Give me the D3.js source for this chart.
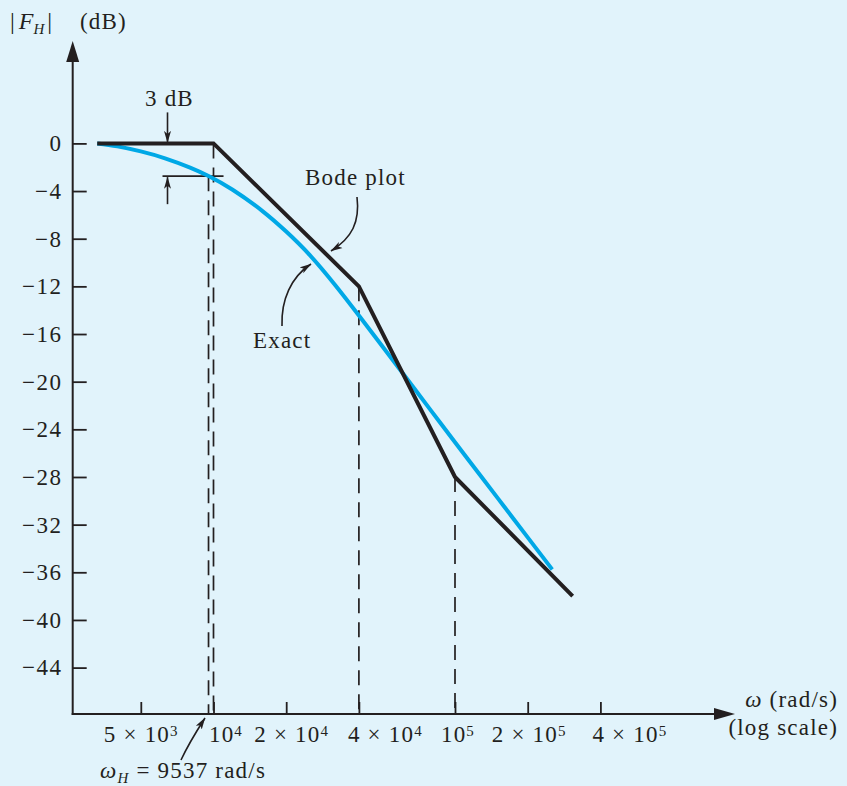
<!DOCTYPE html>
<html>
<head>
<meta charset="utf-8">
<script src="https://cdn.jsdelivr.net/npm/d3@7"></script>
<style>
  html, body { margin: 0; padding: 0; background: #E1F3FB; }
  svg { display: block; }
  text { font-family: "Liberation Serif", "Times New Roman", serif; fill: #231F20; }
</style>
</head>
<body>
<svg id="chart" width="847" height="786"></svg>
<script>
// ---------------- data ----------------
const xTickValues = [5e3, 1e4, 2e4, 4e4, 1e5, 2e5, 4e5];
const xTickLabels = ["5 × 10^3", "10^4", "2 × 10^4", "4 × 10^4", "10^5", "2 × 10^5", "4 × 10^5"];
const yTickValues = [0, -4, -8, -12, -16, -20, -24, -28, -32, -36, -40, -44];

// Bode (asymptotic) plot: frequency (rad/s) and magnitude (dB)
const bodeOmega = [3300, 1e4, 4e4, 1e5, 3.07e5];
const bodeDb = [0, 0, -12, -28, -38];

// Exact response
const exactOmega = [3300, 4000, 5000, 6300, 8000, 9537, 12000, 16000, 20000, 25000, 32000, 40000,
                    50000, 63000, 80000, 100000, 130000, 160000, 200000, 252700];
const exactDb = [0, -0.25, -0.67, -1.25, -2.03, -2.74, -3.89, -5.70, -7.40, -9.36, -11.93, -14.45,
                 -17.02, -19.71, -22.49, -25.09, -28.11, -30.50, -33.07, -35.76];

// dashed guide lines: frequency and the level where each starts
const guideOmega = [9537, 1e4, 4e4, 1e5];
const guideDb = [-2.75, 0, -12, -28];

const omegaH = 9537;
const markerDb = -2.75;   // the "3 dB" level marker

// ---------------- layout ----------------
const C_BLACK = "#231F20", C_CYAN = "#00A8E6";
const xAxisY = 714, yAxisX = 72.7;
const xLabelShift = [0, 12, 5, 26, 2.5, 1, 29];
const fontSize = 23, LS = 1.2;

const svg = d3.select("#chart");

const x = d3.scaleLog().domain([1e4, 1e5]).range([213.5, 455]);
const y = d3.scaleLinear().domain([0, -44]).range([143.4, 667.6]);

// markers
const defs = svg.append("defs");
defs.append("marker").attr("id", "ah").attr("markerUnits", "userSpaceOnUse")
  .attr("viewBox", "0 0 12 8").attr("refX", 11.5).attr("refY", 4)
  .attr("markerWidth", 12).attr("markerHeight", 8).attr("orient", "auto")
  .append("path").attr("d", "M0,0.5 L12,4 L0,7.5 L3,4 Z").attr("fill", C_BLACK);

// ---------------- axes ----------------
// Y axis
const yAxis = d3.axisLeft(y).tickValues(yTickValues).tickSize(-14).tickPadding(10)
  .tickFormat(d => d === 0 ? "0" : "\u2212" + Math.abs(d));
const gy = svg.append("g").attr("transform", `translate(${yAxisX},0)`).call(yAxis);
gy.select(".domain").remove();
gy.selectAll(".tick line").attr("stroke", C_BLACK).attr("stroke-width", 1.8);
gy.selectAll(".tick text").attr("font-size", fontSize).attr("letter-spacing", 1.6)
  .attr("font-family", "Liberation Serif").attr("fill", C_BLACK);

// X axis
const xAxis = d3.axisBottom(x).tickValues(xTickValues).tickSize(-12).tickPadding(12).tickFormat(() => "");
const gx = svg.append("g").attr("transform", `translate(0,${xAxisY})`).call(xAxis);
gx.select(".domain").remove();
gx.selectAll(".tick line").attr("stroke", C_BLACK).attr("stroke-width", 1.8);
gx.selectAll(".tick text").each(function(d, i) {
  const t = d3.select(this).text("")
    .attr("font-size", fontSize).attr("font-family", "Liberation Serif").attr("fill", C_BLACK)
    .attr("letter-spacing", LS).attr("x", xLabelShift[i]);
  const parts = xTickLabels[i].split("^");
  t.append("tspan").text(parts[0]);
  t.append("tspan").text(parts[1]).attr("font-size", 15).attr("dy", "-0.4em");
});

// axis lines with arrows
svg.append("line").attr("x1", yAxisX).attr("y1", xAxisY + 1).attr("x2", yAxisX).attr("y2", 60)
  .attr("stroke", C_BLACK).attr("stroke-width", 2);
svg.append("path").attr("d", `M${yAxisX},41 L${yAxisX + 6.5},62 L${yAxisX - 6.5},62 Z`).attr("fill", C_BLACK);
svg.append("line").attr("x1", yAxisX - 1).attr("y1", xAxisY).attr("x2", 718).attr("y2", xAxisY)
  .attr("stroke", C_BLACK).attr("stroke-width", 2);
svg.append("path").attr("d", `M735,${xAxisY} L714,${xAxisY - 6} L714,${xAxisY + 6} Z`).attr("fill", C_BLACK);

// ---------------- guides ----------------
guideOmega.forEach((w, i) => {
  svg.append("line")
    .attr("x1", x(w)).attr("x2", x(w))
    .attr("y1", y(guideDb[i])).attr("y2", xAxisY)
    .attr("stroke", C_BLACK).attr("stroke-width", 1.7)
    .attr("stroke-dasharray", "15,9");
});

// 3 dB marker
const mx = x(6450);
svg.append("line").attr("x1", mx - 5).attr("x2", x(omegaH) + 15)
  .attr("y1", y(markerDb)).attr("y2", y(markerDb))
  .attr("stroke", C_BLACK).attr("stroke-width", 1.6);
svg.append("line").attr("x1", mx).attr("x2", mx).attr("y1", y(0) - 31).attr("y2", y(0) - 1)
  .attr("stroke", C_BLACK).attr("stroke-width", 1.6).attr("marker-end", "url(#ah)");
svg.append("line").attr("x1", mx).attr("x2", mx).attr("y1", y(markerDb) + 28).attr("y2", y(markerDb) + 1)
  .attr("stroke", C_BLACK).attr("stroke-width", 1.6).attr("marker-end", "url(#ah)");

// ---------------- series ----------------
const exactData = exactOmega.map((w, i) => [w, exactDb[i]]);
const bodeData = bodeOmega.map((w, i) => [w, bodeDb[i]]);

svg.append("path").datum(exactData)
  .attr("d", d3.line().x(d => x(d[0])).y(d => y(d[1])).curve(d3.curveNatural))
  .attr("fill", "none").attr("stroke", C_CYAN).attr("stroke-width", 4);

svg.append("path").datum(bodeData)
  .attr("d", d3.line().x(d => x(d[0])).y(d => y(d[1])))
  .attr("fill", "none").attr("stroke", C_BLACK).attr("stroke-width", 4)
  .attr("stroke-linejoin", "miter");

// ---------------- annotations ----------------
svg.append("path").attr("d", "M357,197 C360,222 352,238 331,251")
  .attr("fill", "none").attr("stroke", C_BLACK).attr("stroke-width", 1.6).attr("marker-end", "url(#ah)");
svg.append("path").attr("d", "M282,326 C281,300 291,277 311,264")
  .attr("fill", "none").attr("stroke", C_BLACK).attr("stroke-width", 1.6).attr("marker-end", "url(#ah)");
svg.append("path").attr("d", "M181,760 C188,745 196,732 205,718")
  .attr("fill", "none").attr("stroke", C_BLACK).attr("stroke-width", 1.6).attr("marker-end", "url(#ah)");

const txt = (xp, yp, s, anchor) => svg.append("text").attr("x", xp).attr("y", yp)
  .attr("font-size", fontSize).attr("letter-spacing", LS).attr("text-anchor", anchor || "start").text(s);

txt(145, 106, "3 dB");
txt(305, 185, "Bode plot");
txt(253, 348, "Exact");

// y-axis title |F_H| (dB)
const yt = svg.append("text").attr("x", 10).attr("y", 29).attr("font-size", 24);
yt.append("tspan").text("|");
yt.append("tspan").text("F").attr("font-style", "italic").attr("dx", 4);
yt.append("tspan").text("H").attr("font-style", "italic").attr("font-size", 15).attr("dy", 5);
yt.append("tspan").text("|").attr("dy", -5).attr("dx", 3);
txt(80, 29, "(dB)");

// x-axis title
const xt1 = svg.append("text").attr("x", 838).attr("y", 707).attr("font-size", fontSize)
  .attr("letter-spacing", LS).attr("text-anchor", "end");
xt1.append("tspan").text("ω").attr("font-style", "italic");
xt1.append("tspan").text(" (rad/s)");
txt(838, 735, "(log scale)", "end");

// omega_H label
const wl = svg.append("text").attr("x", 100).attr("y", 778).attr("font-size", fontSize).attr("letter-spacing", LS);
wl.append("tspan").text("ω").attr("font-style", "italic");
wl.append("tspan").text("H").attr("font-style", "italic").attr("font-size", 15).attr("dy", 5);
wl.append("tspan").text(" = " + omegaH + " rad/s").attr("dy", -5);
</script>
</body>
</html>
